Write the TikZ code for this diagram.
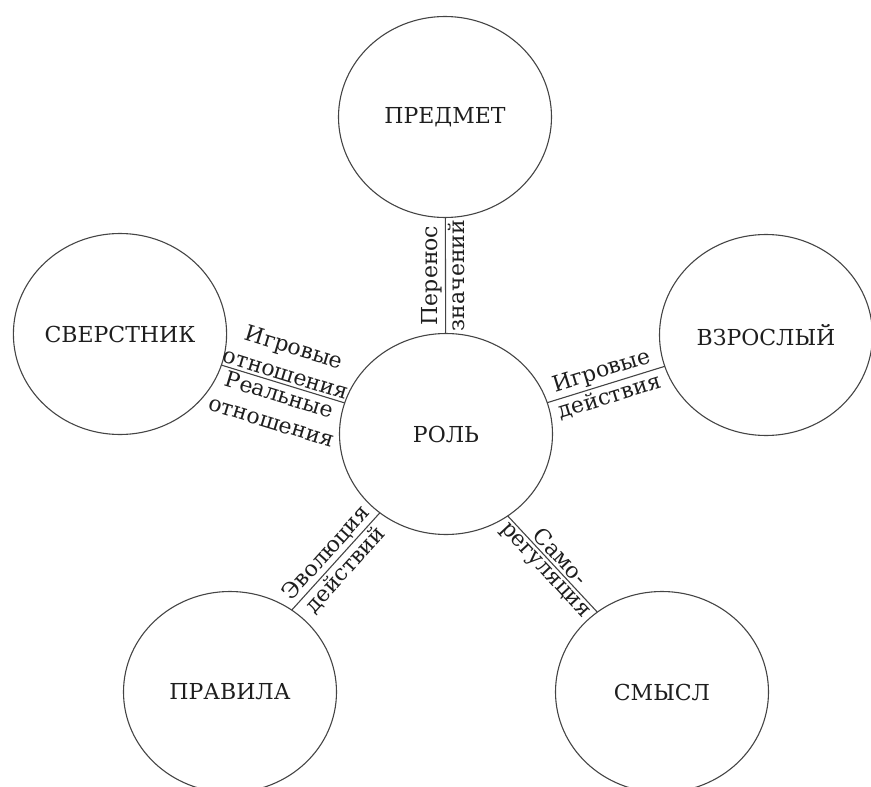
\documentclass[tikz,border=0pt]{standalone}
\usepackage{fontspec}
\setmainfont{DejaVu Serif}
\usetikzlibrary{shapes.geometric}
\definecolor{ink}{HTML}{1E1E1E}
\definecolor{edge}{HTML}{444444}
\newcommand{\nodefnt}{\fontsize{22}{26}\selectfont}
\newcommand{\labfnt}{\fontsize{22}{27.5}\selectfont}
\tikzset{
  rolecircle/.style={ellipse, draw=edge, line width=1.1pt, minimum width=213pt, minimum height=201pt,
    inner sep=0pt, outer sep=0pt, text=ink, font=\nodefnt},
  link/.style={draw=edge, line width=1.1pt},
  lab/.style={midway, inner sep=2.5pt, align=center, text=ink, font=\labfnt},
  slab/.style={lab, sloped}
}
\begin{document}
\begin{tikzpicture}[x=1pt,y=-1pt]
\useasboundingbox (0,0) rectangle (871,787);
\node[rolecircle] (pred) at (445,117) {ПРЕДМЕТ};
\node[rolecircle] (rol)  at (446,434) {РОЛЬ};
\node[rolecircle] (sv)   at (120,334) {СВЕРСТНИК};
\node[rolecircle] (vz)   at (766,335) {ВЗРОСЛЫЙ};
\node[rolecircle] (prav) at (230,692) {ПРАВИЛА};
\node[rolecircle] (sm)   at (662,692) {СМЫСЛ};

\draw[link] (rol) -- node[lab, rotate=90, anchor=south] {Перенос} node[lab, rotate=90, anchor=north] {значений} (pred);
\draw[link] (sv) -- node[slab, above] {Игровые\\отношения} node[slab, below] {Реальные\\отношения} (rol);
\draw[link] (rol) -- node[slab, above] {Игровые} node[slab, below] {действия} (vz);
\draw[link] (prav.53.6) -- node[slab, above] {Эволюция} node[slab, below] {действий} (rol.230.7);
\draw[link] (rol.-53.7) -- node[slab, above] {Само-} node[slab, below] {регуляция} (sm.129.6);
\end{tikzpicture}
\end{document}
